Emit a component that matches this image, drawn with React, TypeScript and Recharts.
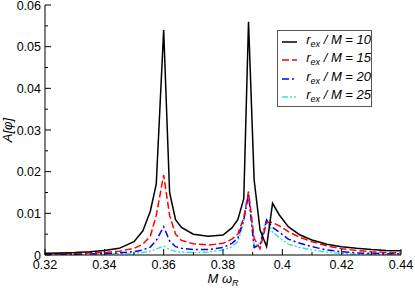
import { Label, Line, LineChart, XAxis, YAxis } from "recharts";

// frequency grid (M omega_R)
const freqs = [
  0.32, 0.325, 0.33, 0.335, 0.34, 0.345, 0.35, 0.353, 0.3555, 0.3575, 0.36, 0.362, 0.364, 0.366,
  0.37, 0.375, 0.38, 0.383, 0.385, 0.387, 0.3886, 0.3905, 0.3925, 0.3947, 0.3967, 0.399, 0.402,
  0.406, 0.41, 0.415, 0.42, 0.425, 0.43, 0.435, 0.44,
];

const amp10 = [
  0.0004, 0.0005, 0.0006, 0.0008, 0.0011, 0.0016, 0.0032, 0.0058, 0.0105, 0.017, 0.054, 0.015,
  0.0085, 0.0066, 0.005, 0.0045, 0.0048, 0.0065, 0.0085, 0.0135, 0.056, 0.018, 0.006, 0.002,
  0.0124, 0.0096, 0.0068, 0.0048, 0.0036, 0.0026, 0.002, 0.0016, 0.0013, 0.0011, 0.001,
];
const amp15 = [
  0.0003, 0.0003, 0.0004, 0.0005, 0.0006, 0.0009, 0.0016, 0.0026, 0.0045, 0.0095, 0.0192, 0.0095,
  0.005, 0.0035, 0.0027, 0.0024, 0.0028, 0.0038, 0.005, 0.009, 0.0152, 0.004, 0.0015, 0.0078,
  0.0078, 0.007, 0.0056, 0.0042, 0.0032, 0.0022, 0.0015, 0.0011, 0.0008, 0.0006, 0.0005,
];
const amp20 = [
  0.0002, 0.0002, 0.0002, 0.0003, 0.0003, 0.0005, 0.0008, 0.0012, 0.0019, 0.0035, 0.0068, 0.0034,
  0.002, 0.0016, 0.0013, 0.0013, 0.0018, 0.0028, 0.004, 0.0085, 0.0145, 0.0018, 0.0025, 0.0084,
  0.0066, 0.0055, 0.0038, 0.0028, 0.002, 0.0012, 0.0008, 0.0005, 0.0004, 0.0003, 0.0003,
];
const amp25 = [
  0.0001, 0.0001, 0.0001, 0.0002, 0.0002, 0.0003, 0.0004, 0.0006, 0.0009, 0.0014, 0.0022, 0.0013,
  0.0009, 0.0007, 0.0006, 0.0007, 0.0012, 0.002, 0.0032, 0.008, 0.0152, 0.002, 0.003, 0.0085,
  0.0055, 0.0042, 0.0026, 0.0018, 0.0012, 0.0007, 0.0004, 0.0002, 0.0002, 0.0002, 0.0002,
];

const xTicks = [0.32, 0.33, 0.34, 0.35, 0.36, 0.37, 0.38, 0.39, 0.4, 0.41, 0.42, 0.43, 0.44];
const xTickLabels = ["0.32", "0.34", "0.36", "0.38", "0.4", "0.42", "0.44"];
const yTicks = [0, 0.005, 0.01, 0.015, 0.02, 0.025, 0.03, 0.035, 0.04, 0.045, 0.05, 0.055, 0.06];
const yTickLabels = ["0", "0.01", "0.02", "0.03", "0.04", "0.05", "0.06"];

const series = [
  { key: "r10", label: "10", color: "#000000", dash: undefined },
  { key: "r15", label: "15", color: "#ff0000", dash: "7 3" },
  { key: "r20", label: "20", color: "#0000ff", dash: "7 3 2 3" },
  { key: "r25", label: "25", color: "#40e0d0", dash: "6 2 2 2 2 2" },
];

const rows = freqs.map((x, i) => ({
  x,
  r10: amp10[i],
  r15: amp15[i],
  r20: amp20[i],
  r25: amp25[i],
}));

const font = "'Liberation Sans', Arial, sans-serif";

function BottomTick(props: any) {
  const { x, y, index } = props;
  const major = index % 2 === 0;
  return (
    <g>
      <line x1={x} x2={x} y1={y} y2={y - (major ? 6 : 3)} stroke="#000" strokeWidth={1} />
      {major && (
        <text x={x} y={y + 14} textAnchor="middle" fontSize={12.5} fontFamily={font} fill="#000">
          {xTickLabels[index / 2]}
        </text>
      )}
    </g>
  );
}

function TopTick(props: any) {
  const { x, y, index } = props;
  const major = index % 2 === 0;
  return <line x1={x} x2={x} y1={y} y2={y + (major ? 6 : 3)} stroke="#000" strokeWidth={1} />;
}

function LeftTick(props: any) {
  const { x, y, index } = props;
  const major = index % 2 === 0;
  return (
    <g>
      <line x1={x} x2={x + (major ? 6 : 3)} y1={y} y2={y} stroke="#000" strokeWidth={1} />
      {major && (
        <text x={x - 4} y={y + 4.5} textAnchor="end" fontSize={12.5} fontFamily={font} fill="#000">
          {yTickLabels[index / 2]}
        </text>
      )}
    </g>
  );
}

function RightTick(props: any) {
  const { x, y, index } = props;
  const major = index % 2 === 0;
  return <line x1={x} x2={x - (major ? 6 : 3)} y1={y} y2={y} stroke="#000" strokeWidth={1} />;
}

function XTitle(props: any) {
  const vb = props.viewBox;
  return (
    <text
      x={vb.x + vb.width / 2}
      y={vb.y + vb.height - 5}
      textAnchor="middle"
      fontSize={13}
      fontStyle="italic"
      fontFamily={font}
      fill="#000"
    >
      M ω
      <tspan fontSize={9} dy={3}>
        R
      </tspan>
    </text>
  );
}

function YTitle(props: any) {
  const vb = props.viewBox;
  const cx = vb.x + 12;
  const cy = vb.y + vb.height / 2;
  return (
    <text
      x={cx}
      y={cy}
      transform={`rotate(-90 ${cx} ${cy})`}
      textAnchor="middle"
      fontSize={13}
      fontStyle="italic"
      fontFamily={font}
      fill="#000"
    >
      A[φ]
    </text>
  );
}

function LegendBox() {
  return (
    <div
      style={{
        position: "absolute",
        left: 277,
        top: 30,
        width: 95,
        height: 77,
        border: "1px solid #555",
        background: "#fff",
        fontFamily: font,
        fontSize: 13,
        fontStyle: "italic",
        paddingTop: 2,
        boxSizing: "border-box",
      }}
    >
      {series.map((s) => (
        <div key={s.key} style={{ display: "flex", alignItems: "center", height: 18.3 }}>
          <svg width={24} height={10} style={{ marginLeft: 3, marginRight: 3 }}>
            <line x1={1} x2={16} y1={5} y2={5} stroke={s.color} strokeWidth={1.5} strokeDasharray={s.dash} />
          </svg>
          <span style={{ whiteSpace: "nowrap", lineHeight: "13px" }}>
            r<sub style={{ fontSize: 9, verticalAlign: "-3px" }}>ex</sub> / M = {s.label}
          </span>
        </div>
      ))}
    </div>
  );
}

export default function App() {
  return (
    <div style={{ position: "absolute", left: 0, top: 0, width: 415, height: 288, background: "#fff" }}>
      <LineChart width={415} height={288} data={rows} margin={{ top: 5, right: 14, bottom: 0, left: 0 }}>
        <XAxis
          dataKey="x"
          type="number"
          domain={[0.32, 0.44]}
          ticks={xTicks}
          interval={0}
          height={33}
          tickSize={0}
          tickMargin={0}
          tickLine={false}
          tick={<BottomTick />}
          axisLine={{ stroke: "#000" }}
          allowDataOverflow
        >
          <Label content={<XTitle />} />
        </XAxis>
        <XAxis
          xAxisId="top"
          orientation="top"
          type="number"
          domain={[0.32, 0.44]}
          ticks={xTicks}
          interval={0}
          height={0}
          tickSize={0}
          tickMargin={0}
          tickLine={false}
          tick={<TopTick />}
          axisLine={{ stroke: "#000" }}
        />
        <YAxis
          type="number"
          domain={[0, 0.06]}
          ticks={yTicks}
          interval={0}
          width={45}
          tickSize={0}
          tickMargin={0}
          tickLine={false}
          tick={<LeftTick />}
          axisLine={{ stroke: "#000" }}
          allowDataOverflow
        >
          <Label content={<YTitle />} />
        </YAxis>
        <YAxis
          yAxisId="right"
          orientation="right"
          type="number"
          domain={[0, 0.06]}
          ticks={yTicks}
          interval={0}
          width={0}
          tickSize={0}
          tickMargin={0}
          tickLine={false}
          tick={<RightTick />}
          axisLine={{ stroke: "#000" }}
        />
        {series
          .slice()
          .reverse()
          .map((s) => (
            <Line
              key={s.key}
              dataKey={s.key}
              type="linear"
              stroke={s.color}
              strokeWidth={1.5}
              strokeDasharray={s.dash}
              dot={false}
              activeDot={false}
              isAnimationActive={false}
            />
          ))}
      </LineChart>
      <LegendBox />
    </div>
  );
}
